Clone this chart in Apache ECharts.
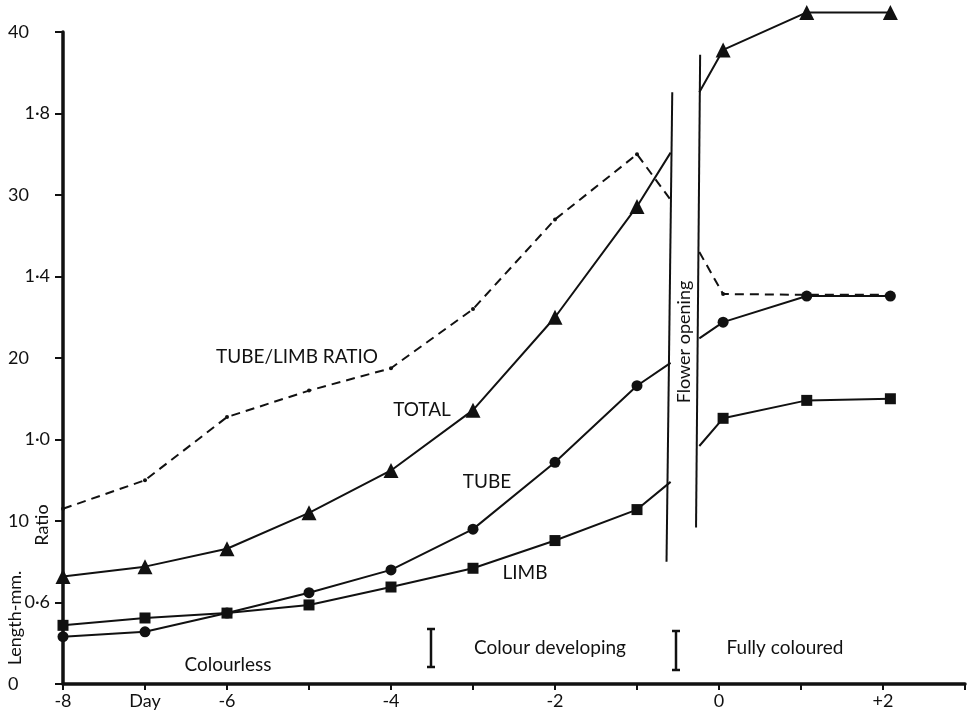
<!DOCTYPE html>
<html lang="en">
<head>
    <meta charset="utf-8">
    <title>Flower growth</title>
    <script type="text/javascript" src="https://cdn.jsdelivr.net/npm/echarts@6/dist/echarts.min.js"></script>
    <style>
        html, body { margin: 0; padding: 0; background: #fff; }
        #main { width: 975px; height: 721px; }
    </style>
</head>
<body>
<div id="main"></div>
<script>
    // days before flower opening
    var days = [-8, -7, -6, -5, -4, -3, -2, -1];
    var total = [6.6, 7.2, 8.3, 10.5, 13.1, 16.8, 22.5, 29.3];
    var tube = [2.9, 3.2, 4.35, 5.6, 7.0, 9.5, 13.6, 18.3];
    var limb = [3.6, 4.05, 4.35, 4.85, 5.95, 7.1, 8.8, 10.7];
    var ratio = [0.83, 0.9, 1.055, 1.12, 1.175, 1.32, 1.54, 1.7];

    // days after flower opening
    var daysAfter = [0.05, 1.07, 2.09];
    var totalAfter = [38.9, 41.2, 41.2];
    var tubeAfter = [22.2, 23.8, 23.8];
    var limbAfter = [16.3, 17.4, 17.5];
    var ratioAfter = [1.357, 1.355, 1.355];

    // where each curve meets the two "flower opening" lines
    var edgeDays = [-0.59, -0.24];
    var totalEdge = [32.6, 36.3];
    var tubeEdge = [19.7, 21.2];
    var limbEdge = [12.4, 14.6];
    var ratioEdge = [1.588, 1.46];

    // flower opening lines [x, mm]
    var openLeft = [[-0.64, 7.5], [-0.57, 36.3]];
    var openRight = [[-0.28, 9.6], [-0.23, 38.6]];

    var ink = '#111';
    var font = 'Lato';

    function before(vals, edge) {
        var out = days.map(function (d, i) { return [d, vals[i]]; });
        out.push({ value: [edgeDays[0], edge[0]], symbol: 'none' });
        return out;
    }
    function after(vals, edge) {
        var out = [{ value: [edgeDays[1], edge[1]], symbol: 'none' }];
        daysAfter.forEach(function (d, i) { out.push([d, vals[i]]); });
        return out;
    }
    function curve(data, symbol, size, yIndex, dashed) {
        return {
            type: 'line',
            data: data,
            yAxisIndex: yIndex || 0,
            symbol: symbol,
            symbolSize: size,
            clip: false,
            animation: false,
            itemStyle: { color: ink },
            lineStyle: { color: ink, width: 2, type: dashed ? [9, 6] : 'solid' },
            z: dashed ? 2 : 3
        };
    }

    var chart = echarts.init(document.getElementById('main'));

    var series = [
        curve(before(ratio, ratioEdge), 'circle', 4, 1, true),
        curve(after(ratioAfter, ratioEdge), 'circle', 4, 1, true),
        curve(before(total, totalEdge), 'triangle', 15),
        curve(after(totalAfter, totalEdge), 'triangle', 15),
        curve(before(tube, tubeEdge), 'circle', 11),
        curve(after(tubeAfter, tubeEdge), 'circle', 11),
        curve(before(limb, limbEdge), 'rect', 11),
        curve(after(limbAfter, limbEdge), 'rect', 11)
    ];

    // the two lines marking flower opening
    series[2].markLine = {
        silent: true,
        symbol: 'none',
        label: { show: false },
        lineStyle: { color: ink, width: 2, type: 'solid' },
        data: [
            [{ coord: openLeft[0] }, { coord: openLeft[1] }],
            [{ coord: openRight[0] }, { coord: openRight[1] }]
        ]
    };

    function ibar(x, y1, y2) {
        return {
            type: 'group',
            children: [
                { type: 'line', shape: { x1: x, y1: y1, x2: x, y2: y2 }, style: { stroke: ink, lineWidth: 2.5 } },
                { type: 'line', shape: { x1: x - 4, y1: y1, x2: x + 4, y2: y1 }, style: { stroke: ink, lineWidth: 2.5 } },
                { type: 'line', shape: { x1: x - 4, y1: y2, x2: x + 4, y2: y2 }, style: { stroke: ink, lineWidth: 2.5 } }
            ]
        };
    }
    function label(text, x, y, size, rot) {
        return {
            type: 'text',
            x: x,
            y: y,
            rotation: rot || 0,
            style: {
                text: text,
                fill: ink,
                font: size + 'px ' + font,
                textAlign: 'center',
                textVerticalAlign: 'middle'
            }
        };
    }

    var option = {
        backgroundColor: '#fff',
        animation: false,
        grid: { left: 63, right: 10, top: 32, bottom: 37 },
        xAxis: {
            type: 'value',
            min: -8,
            max: 3,
            interval: 1,
            splitLine: { show: false },
            axisLine: { onZero: false, lineStyle: { color: ink, width: 3.5 } },
            axisTick: { length: 6, lineStyle: { color: ink, width: 2 } },
            axisLabel: {
                color: ink,
                fontFamily: font,
                fontSize: 18,
                margin: 8,
                formatter: function (v) {
                    if (v === -7) return 'Day';
                    if (v % 2 !== 0 || v > 2) return '';
                    return v > 0 ? '+' + v : String(v);
                }
            }
        },
        yAxis: [
            {
                type: 'value',
                min: 0,
                max: 40,
                interval: 5,
                splitLine: { show: false },
                axisLine: { show: true, onZero: false, lineStyle: { color: ink, width: 3.5 } },
                axisTick: { show: true, length: 8, lineStyle: { color: ink, width: 2 } },
                axisLabel: {
                    color: ink,
                    fontFamily: font,
                    fontSize: 18,
                    align: 'left',
                    margin: 55,
                    formatter: function (v) { return v % 10 === 0 ? String(v) : ''; }
                }
            },
            {
                type: 'value',
                position: 'left',
                min: 0.4,
                max: 2.0,
                interval: 0.2,
                splitLine: { show: false },
                axisLine: { show: false, onZero: false },
                axisTick: { show: false },
                axisLabel: {
                    color: ink,
                    fontFamily: font,
                    fontSize: 18,
                    margin: 13,
                    formatter: function (v) {
                        var t = Math.round(v * 10);
                        if (t === 6 || t === 10 || t === 14 || t === 18) {
                            return Math.floor(t / 10) + '\u00b7' + (t % 10);
                        }
                        return '';
                    }
                }
            }
        ],
        series: series,
        graphic: [
            label('Length-mm.', 15, 618, 18, Math.PI / 2),
            label('Ratio', 42, 525, 18, Math.PI / 2),
            label('Flower opening', 684, 342, 18, Math.PI / 2),
            label('TUBE/LIMB RATIO', 297, 357, 19),
            label('TOTAL', 422, 410, 19),
            label('TUBE', 487, 482, 19),
            label('LIMB', 525, 573, 19),
            label('Colourless', 228, 665, 19),
            label('Colour developing', 550, 648, 19),
            label('Fully coloured', 785, 648, 19),
            ibar(431, 629, 667),
            ibar(676, 631, 670)
        ]
    };
    chart.setOption(option);
</script>
</body>
</html>
